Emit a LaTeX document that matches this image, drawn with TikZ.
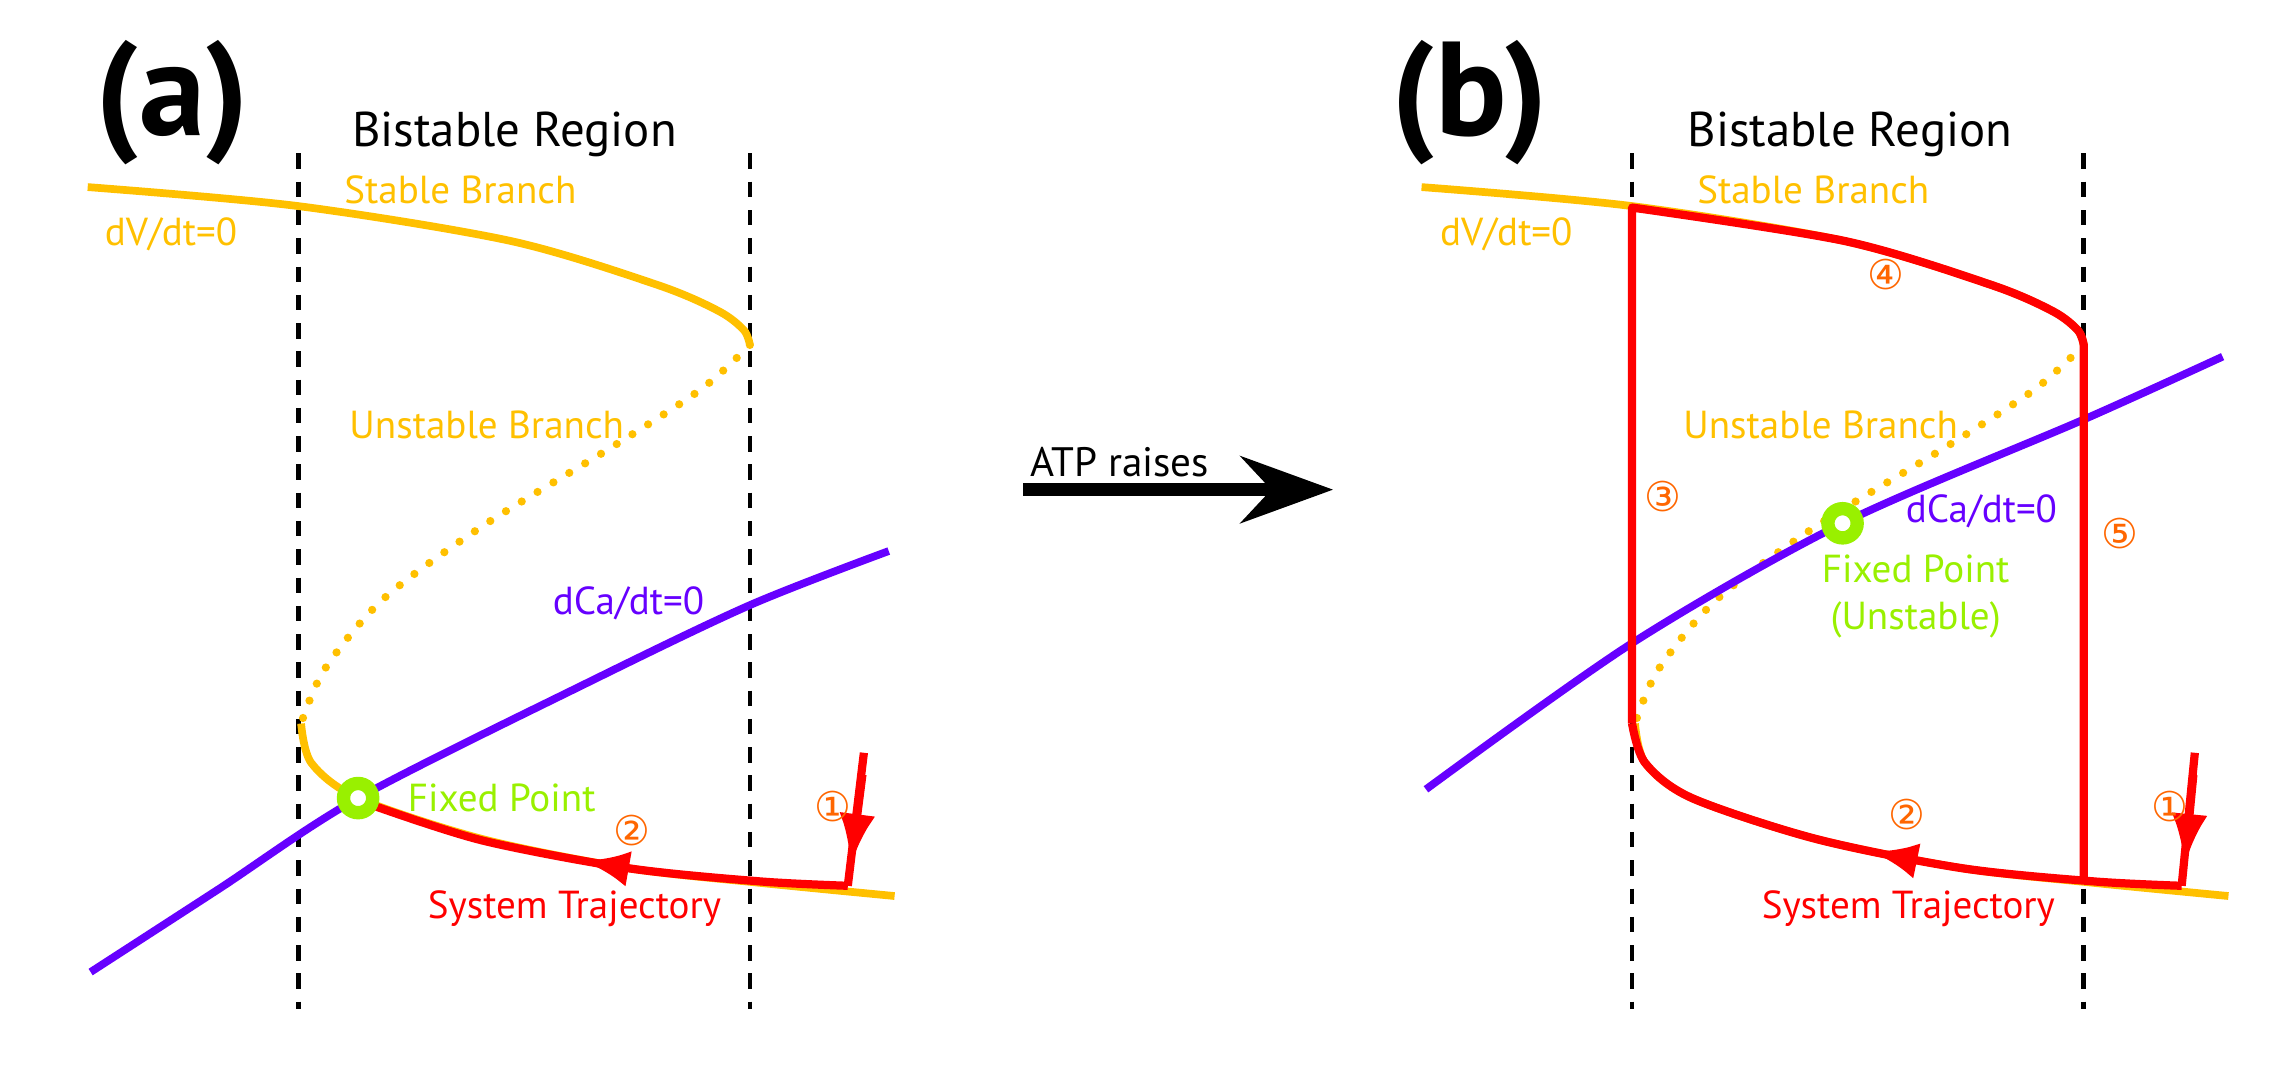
\documentclass[tikz,border=0pt]{standalone}
\usepackage{fontspec}
\setmainfont{PT Sans}
\newfontfamily\circfont{DejaVu Sans}
\usetikzlibrary{arrows.meta,positioning,decorations.markings}
\definecolor{branchyellow}{RGB}{255,192,0}
\definecolor{capurple}{RGB}{102,0,255}
\definecolor{fixgreen}{RGB}{153,240,0}
\definecolor{steporange}{RGB}{255,102,0}

\begin{document}
\begin{tikzpicture}[x=0.01cm,y=-0.01cm,
    branch/.style={branchyellow,line width=1.5pt},
    unstable/.style={branchyellow,line width=1.6pt,dash pattern=on 0pt off 3.6pt,line cap=round},
    nullca/.style={capurple,line width=1.5pt},
    traj/.style={red,line width=1.6pt},
    bound/.style={black,line width=0.9pt,dash pattern=on 3pt off 2.5pt},
    fixpt/.style={circle,draw=fixgreen,fill=white,line width=2.6pt,minimum size=0.2cm,inner sep=0pt},
    panel label/.style={font=\bfseries\fontsize{26}{28}\selectfont},
    title label/.style={font=\fontsize{9.5}{11}\selectfont},
    curve label/.style={font=\fontsize{7.6}{9}\selectfont},
    step label/.style={font=\circfont\fontsize{8}{9}\selectfont,text=steporange},
    midarrow/.style={postaction={decorate},decoration={markings,
        mark=at position #1 with {\arrow{Latex[length=9pt,width=7pt]}}}}]
\useasboundingbox (0,0) rectangle (1568,731);

% ---- panel (a)
\node[panel label] (LabelA) at (118,70) {(a)};
\node[title label] (TitleA) at (352,92) {Bistable Region};
\draw[bound] (204,105) -- (204,690);
\draw[bound] (513,105) -- (513,690);

\draw[branch] plot[smooth] coordinates {(60,128) (204,141) (350,165) (450,195) (492,213) (509,226) (513,236)};
\draw[unstable] plot[smooth] coordinates {(513,236) (480,266) (420,305) (330,360) (262,410) (222,458) (206,495)};
\draw[branch] plot[smooth] coordinates {(206,495) (213,522) (245,546) (330,574) (430,594) (520,604) (612,613)};
\draw[nullca] plot[smooth] coordinates {(62,665) (150,608) (245,546) (400,468) (513,414) (608,377)};

\draw[traj] (591,515) -- (580,606);
\draw[traj,-{Latex[length=10pt,width=7pt]}] (590,530) -- (582,592);
\draw[traj,midarrow=0.55] plot[smooth] coordinates {(580,606) (520,603) (430,594) (330,575) (255,551)};
\node[fixpt] (FixA) at (245,546) {};

\node[curve label,text=branchyellow] (StableA) at (315,130) {Stable Branch};
\node[curve label,text=branchyellow] (dVA) at (117,160) {dV/dt=0};
\node[curve label,text=branchyellow] (UnstableA) at (333,291) {Unstable Branch};
\node[curve label,text=capurple] (dCaA) at (430,413) {dCa/dt=0};
\node[curve label,text=fixgreen,right=2pt of FixA] (FixTextA) {Fixed Point};
\node[curve label,text=red] (TrajA) at (393,622) {System Trajectory};
\node[step label] (OneA) at (570,552) {①};
\node[step label] (TwoA) at (432,568) {②};

% ---- ATP arrow
\node[title label,font=\fontsize{8}{10}\selectfont] (ATP) at (766,316) {ATP raises};
\coordinate (ATPfrom) at (700,335);
\coordinate (ATPto) at (912,335);
\draw[line width=2.4pt,-{Stealth[length=18pt,width=13pt,inset=6pt]}] (ATPfrom) -- (ATPto);

% ---- panel (b)
\begin{scope}[xshift=9.12cm]
\node[panel label] (LabelB) at (93,70) {(b)};
\node[title label] (TitleB) at (353,92) {Bistable Region};
\draw[bound] (204,105) -- (204,690);
\draw[bound] (513,105) -- (513,690);

\draw[branch] plot[smooth] coordinates {(60,128) (204,141) (350,165) (450,195) (492,213) (509,226) (513,236)};
\draw[unstable] plot[smooth] coordinates {(513,236) (480,266) (420,305) (330,360) (262,410) (222,458) (206,495)};
\draw[branch] plot[smooth] coordinates {(206,495) (213,522) (245,546) (330,574) (430,594) (520,604) (612,613)};
\draw[nullca] plot[smooth] coordinates {(63,540) (204,440) (348,358) (513,287) (608,244)};

\draw[traj] (589,515) -- (580,606);
\draw[traj,-{Latex[length=10pt,width=7pt]}] (588,530) -- (582,592);
\draw[traj,midarrow=0.52] plot[smooth] coordinates {(580,606) (520,603) (430,594) (330,574) (245,546) (213,522) (204,495)};
\draw[traj,line join=round] (204,495) -- (204,142) -- plot[smooth] coordinates {(204,142) (350,165) (450,195) (492,213) (509,226) (513,236)} -- (513,600);
\node[fixpt] (FixB) at (348,358) {};

\node[curve label,text=branchyellow] (StableB) at (328,130) {Stable Branch};
\node[curve label,text=branchyellow] (dVB) at (118,160) {dV/dt=0};
\node[curve label,text=branchyellow] (UnstableB) at (333,291) {Unstable Branch};
\node[curve label,text=capurple] (dCaB) at (443,350) {dCa/dt=0};
\node[curve label,text=fixgreen,align=center] (FixTextB) at (398,408) {Fixed Point\\(Unstable)};
\node[curve label,text=red] (TrajB) at (393,622) {System Trajectory};
\node[step label] (OneB) at (572,552) {①};
\node[step label] (TwoB) at (392,557) {②};
\node[step label] (ThreeB) at (225,340) {③};
\node[step label] (FourB) at (378,188) {④};
\node[step label] (FiveB) at (538,365) {⑤};
\end{scope}
\end{tikzpicture}
\end{document}
